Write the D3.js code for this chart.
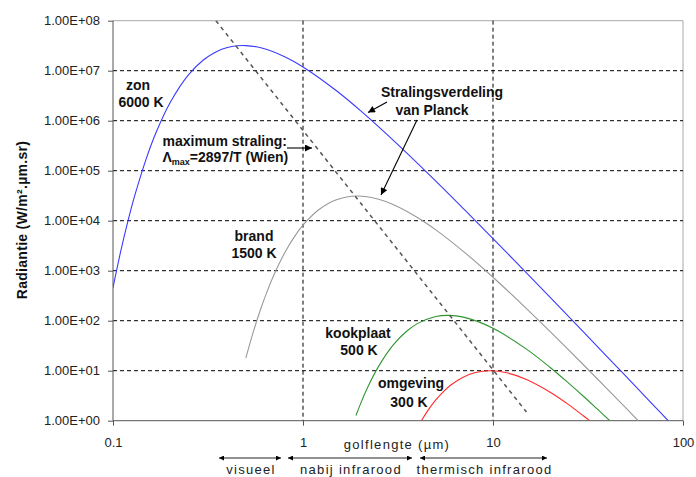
<!DOCTYPE html>
<html>
<head>
<meta charset="utf-8">
<script src="https://cdnjs.cloudflare.com/ajax/libs/d3/7.8.5/d3.min.js"></script>
<style>
  html, body { margin: 0; padding: 0; background: #fff; }
  svg { display: block; font-family: Arial, "Liberation Sans", sans-serif; }
</style>
</head>
<body>
<svg id="chart" width="696" height="477"></svg>
<script>
// ---- data (wavelength in µm, radiance in W/m².µm.sr) ----
const xTicks = [0.1, 1, 10, 100];
const xTickLabels = ["0.1", "1", "10", "100"];
const yTicks = [1, 1e1, 1e2, 1e3, 1e4, 1e5, 1e6, 1e7, 1e8];
const yTickLabels = ["1.00E+00","1.00E+01","1.00E+02","1.00E+03","1.00E+04","1.00E+05","1.00E+06","1.00E+07","1.00E+08"];
const xGrid = [1, 10];

const sunX = [0.1, 0.11, 0.12, 0.13, 0.15, 0.17, 0.2, 0.25, 0.3, 0.35, 0.4, 0.45, 0.5, 0.6, 0.8, 1, 1.5, 2, 3, 5, 7, 10, 15, 20, 30, 50, 70, 83.6];
const sunY = [459, 2520, 1.003e4, 3.13e4, 1.79e5, 6.27e5, 2.31e6, 8.33e6, 1.66e7, 2.40e7, 2.91e7, 3.15e7, 3.18e7, 2.87e7, 1.91e7, 1.19e7, 3.98e6, 1.61e6, 4.0e5, 6.19e4, 1.73e4, 4395, 905, 292, 58.9, 7.76, 2.03, 1.0];

const fireX = [0.5, 0.55, 0.6, 0.65, 0.7, 0.8, 0.9, 1, 1.2, 1.5, 1.93, 2.5, 3, 4, 5, 7, 10, 15, 20, 30, 40, 50, 58.1];
const fireY = [17.8, 63.1, 175, 400, 793, 2256, 4742, 8131, 1.62e4, 2.62e4, 3.11e4, 2.69e4, 2.09e4, 1.16e4, 6560, 2413, 740, 175, 60.5, 13.0, 4.29, 1.80, 1.0];

const plateX = [1.9, 2, 2.2, 2.5, 3, 3.5, 4, 5, 5.8, 7, 10, 15, 20, 25, 30, 35, 41.2];
const plateY = [1.27, 2.10, 4.82, 12.2, 33.5, 60.9, 87.4, 121, 128, 118, 71.0, 27.0, 11.6, 5.64, 3.05, 1.78, 1.0];

const roomX = [4.2, 4.5, 5, 5.5, 6, 7, 8, 9.66, 12, 15, 20, 25, 30, 32.3];
const roomY = [1.0, 1.52, 2.60, 3.87, 5.18, 7.51, 9.08, 9.95, 8.96, 6.69, 3.72, 2.10, 1.24, 1.0];

const wienX = [0.348, 15.0];
const wienY = [1e8, 1.49];

const series = [
  { x: sunX,   y: sunY,   color: "#3a3aff" },
  { x: fireX,  y: fireY,  color: "#999999" },
  { x: plateX, y: plateY, color: "#2f962f" },
  { x: roomX,  y: roomY,  color: "#ff2b2b" }
];

// ---- layout ----
const svg = d3.select("#chart");
const L = 113, R = 683, T = 20.7, B = 420.7;
const x = d3.scaleLog().domain([0.1, 100]).range([L, R]);
const y = d3.scaleLog().domain([1, 1e8]).range([B, T]);

svg.append("defs").append("clipPath").attr("id", "plotclip")
  .append("rect").attr("x", L).attr("y", T).attr("width", R - L).attr("height", B - T);

// frame (top & right light gray)
svg.append("line").attr("x1", L).attr("x2", R).attr("y1", T).attr("y2", T).attr("stroke", "#a8a8a8");
svg.append("line").attr("x1", R).attr("x2", R).attr("y1", T).attr("y2", B).attr("stroke", "#a8a8a8");

// grid
svg.append("g").selectAll("line").data(yTicks.filter(v => v > 1 && v < 1e8)).join("line")
  .attr("x1", L).attr("x2", R).attr("y1", d => y(d)).attr("y2", d => y(d))
  .attr("stroke", "#000").attr("stroke-width", 1).attr("stroke-dasharray", "4,3");
svg.append("g").selectAll("line").data(xGrid).join("line")
  .attr("x1", d => x(d)).attr("x2", d => x(d)).attr("y1", T).attr("y2", B)
  .attr("stroke", "#000").attr("stroke-width", 1).attr("stroke-dasharray", "4,3");

// axes
const yAxis = d3.axisLeft(y).tickValues(yTicks).tickFormat((d, i) => yTickLabels[i]).tickSize(5).tickPadding(8);
const gy = svg.append("g").attr("transform", `translate(${L},0)`).call(yAxis);
const xAxis = d3.axisBottom(x).tickValues(xTicks).tickFormat((d, i) => xTickLabels[i]).tickSize(5).tickPadding(12);
const gx = svg.append("g").attr("transform", `translate(0,${B})`).call(xAxis);
[gx, gy].forEach(g => {
  g.select(".domain").attr("stroke", "#555");
  g.selectAll(".tick line").attr("stroke", "#555");
  g.selectAll(".tick text").attr("fill", "#222").style("font-size", "13px").style("font-family", "Arial, 'Liberation Sans', sans-serif");
});
gy.select(".domain").attr("d", `M-0,${T}V${B}`);
gx.select(".domain").attr("d", `M${L},0H${R}`);

// curves
const line = d3.line().x(d => x(d[0])).y(d => y(d[1])).curve(d3.curveCatmullRom.alpha(0.5));
const plot = svg.append("g").attr("clip-path", "url(#plotclip)");
series.forEach(s => {
  plot.append("path").datum(s.x.map((v, i) => [v, s.y[i]]))
    .attr("d", line).attr("fill", "none").attr("stroke", s.color).attr("stroke-width", 1.1);
});
// Wien line
plot.append("path").datum(wienX.map((v, i) => [v, wienY[i]]))
  .attr("d", d3.line().x(d => x(d[0])).y(d => y(d[1])))
  .attr("fill", "none").attr("stroke", "#555").attr("stroke-width", 1.5).attr("stroke-dasharray", "4,4");

// arrowheads
const defs = svg.select("defs");
defs.append("marker").attr("id", "ah").attr("viewBox", "0 0 10 10").attr("refX", 10).attr("refY", 5)
  .attr("markerWidth", 8).attr("markerHeight", 7).attr("markerUnits", "userSpaceOnUse").attr("orient", "auto")
  .append("path").attr("d", "M0,0L10,5L0,10z").attr("fill", "#000");
defs.append("marker").attr("id", "sm").attr("viewBox", "0 0 10 10").attr("refX", 10).attr("refY", 5)
  .attr("markerWidth", 7).attr("markerHeight", 5).attr("markerUnits", "userSpaceOnUse").attr("orient", "auto-start-reverse")
  .append("path").attr("d", "M0,0L10,5L0,10z").attr("fill", "#000");

function arrow(x1, y1, x2, y2) {
  svg.append("line").attr("x1", x1).attr("y1", y1).attr("x2", x2).attr("y2", y2)
    .attr("stroke", "#000").attr("stroke-width", 1.1).attr("marker-end", "url(#ah)");
}
arrow(287, 148, 312, 148);
arrow(387, 102, 368, 112.5);
arrow(417, 120, 381, 195);

// labels
function label(txt, xx, yy, anchor) {
  return svg.append("text").attr("x", xx).attr("y", yy).attr("text-anchor", anchor || "middle")
    .attr("fill", "#111").style("font-weight", "bold").style("font-size", "14px").text(txt);
}
label("zon", 138, 90);
label("6000 K", 141, 107);
label("maximum straling:", 162.5, 146, "start");
const wl = svg.append("text").attr("x", 162.5).attr("y", 162).attr("fill", "#111")
  .style("font-weight", "bold").style("font-size", "14px");
wl.append("tspan").text("Λ");
wl.append("tspan").attr("dy", 3).style("font-size", "9px").text("max");
wl.append("tspan").attr("dy", -3).text("=2897/T (Wien)");
label("Stralingsverdeling", 442, 97);
label("van Planck", 432, 115);
label("brand", 254, 241);
label("1500 K", 254, 257.5);
label("kookplaat", 358, 337.5);
label("500 K", 359, 355);
label("omgeving", 411, 388);
label("300 K", 409, 406.5);

// axis titles
const yt = svg.append("text").attr("transform", "translate(26.5,220) rotate(-90)").attr("text-anchor", "middle")
  .attr("fill", "#111").style("font-weight", "bold").style("font-size", "14px").style("letter-spacing", "0.3px");
yt.text("Radiantie (W/m².µm.sr)");
svg.append("text").attr("x", 397).attr("y", 449).attr("text-anchor", "middle").attr("fill", "#222")
  .style("font-size", "13px").style("letter-spacing", "1.3px").text("golflengte (µm)");

// spectral range arrows
const ranges = [
  { a: 219, b: 281, t: "visueel" },
  { a: 288, b: 412, t: "nabij infrarood" },
  { a: 420, b: 547, t: "thermisch infrarood" }
];
ranges.forEach(r => {
  svg.append("line").attr("x1", r.a).attr("x2", r.b).attr("y1", 458).attr("y2", 458)
    .attr("stroke", "#222").attr("stroke-width", 1)
    .attr("marker-start", "url(#sm)").attr("marker-end", "url(#sm)");
  svg.append("text").attr("x", (r.a + r.b) / 2 + 1).attr("y", 474).attr("text-anchor", "middle").attr("fill", "#222")
    .style("font-size", "13px").style("letter-spacing", "1.3px").text(r.t);
});
</script>
</body>
</html>
